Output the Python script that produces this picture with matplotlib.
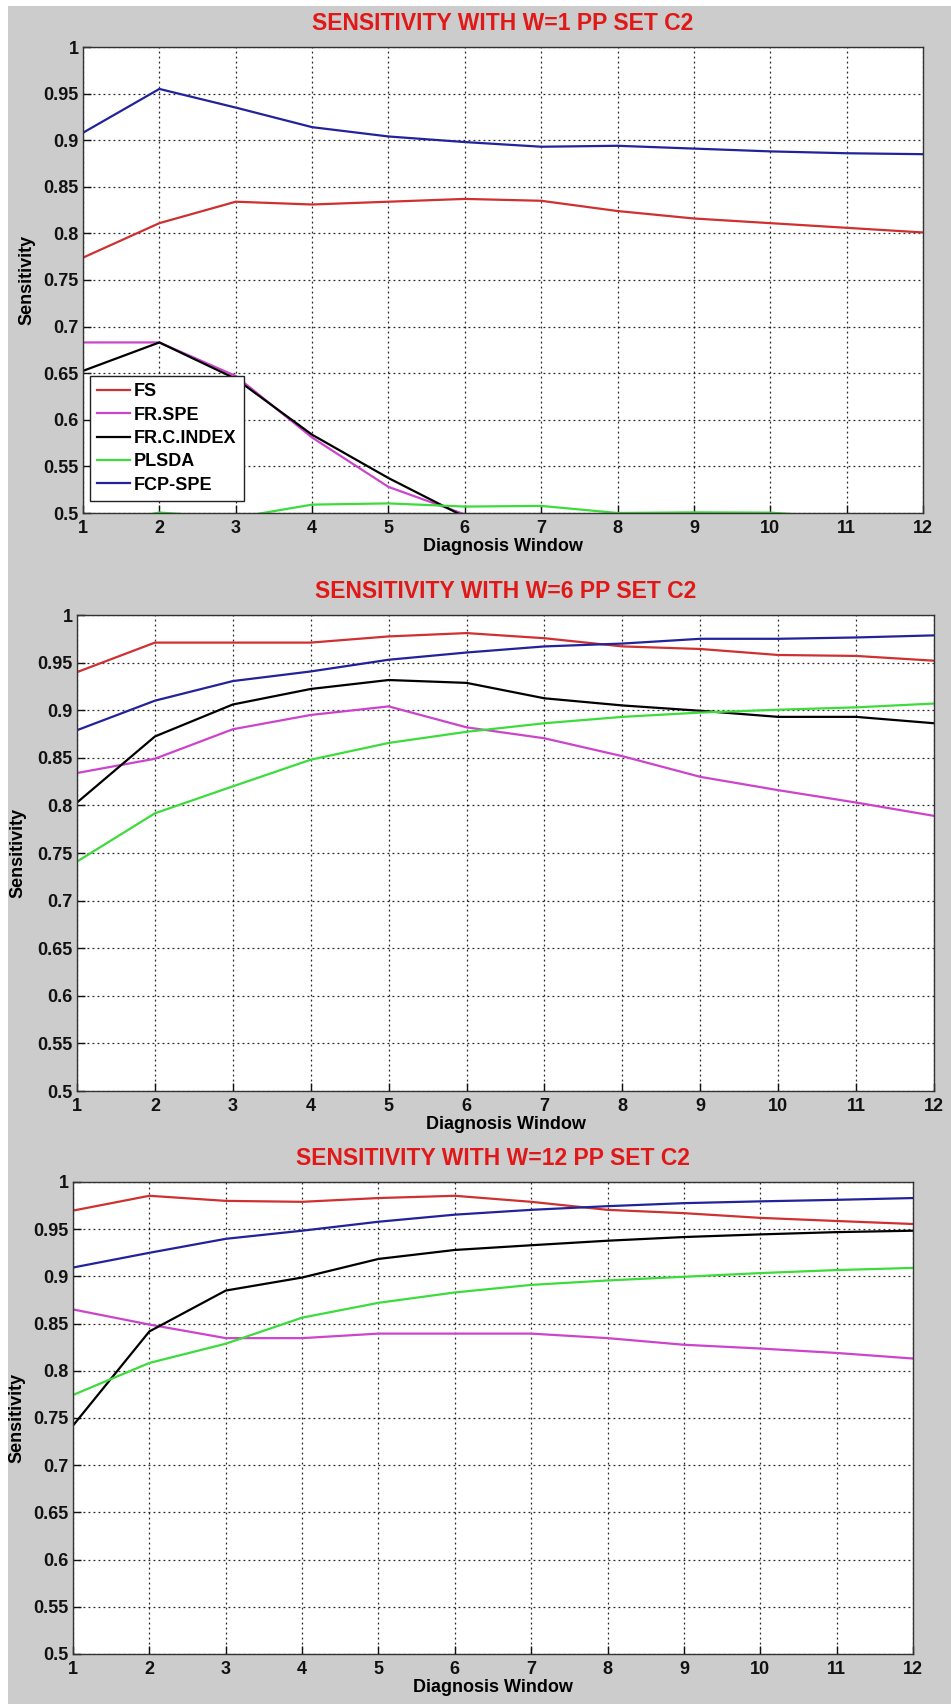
import numpy as np
import matplotlib
matplotlib.use("Agg")
import matplotlib.pyplot as plt
from matplotlib.patches import Rectangle

# ---- data -------------------------------------------------------------
windows = [1, 2, 3, 4, 5, 6, 7, 8, 9, 10, 11, 12]
series_names = ["FS", "FR.SPE", "FR.C.INDEX", "PLSDA", "FCP-SPE"]
panel_titles = ["SENSITIVITY WITH W=1 PP SET C2",
                "SENSITIVITY WITH W=6 PP SET C2",
                "SENSITIVITY WITH W=12 PP SET C2"]
y_ticks = [0.5, 0.55, 0.6, 0.65, 0.7, 0.75, 0.8, 0.85, 0.9, 0.95, 1.0]
y_tick_labels = ["0.5", "0.55", "0.6", "0.65", "0.7", "0.75",
                 "0.8", "0.85", "0.9", "0.95", "1"]

# W = 1
w1_fs = [0.774, 0.811, 0.834, 0.831, 0.834, 0.837, 0.835, 0.824, 0.816, 0.811, 0.806, 0.801]
w1_frspe = [0.683, 0.683, 0.647, 0.581, 0.528, 0.4985, np.nan, np.nan, np.nan, np.nan, np.nan, np.nan]
w1_frcindex = [0.6525, 0.683, 0.644, 0.584, 0.5375, 0.4958, np.nan, np.nan, np.nan, np.nan, np.nan, np.nan]
w1_plsda = [0.485, 0.5005, 0.495, 0.509, 0.5103, 0.5069, 0.5076, 0.5, 0.5007, 0.5004, 0.495, 0.49]
w1_fcpspe = [0.908, 0.955, 0.935, 0.914, 0.904, 0.898, 0.893, 0.894, 0.891, 0.888, 0.886, 0.885]

# W = 6
w6_fs = [0.940, 0.971, 0.971, 0.971, 0.9775, 0.981, 0.9756, 0.967, 0.9643, 0.958, 0.957, 0.952]
w6_frspe = [0.834, 0.849, 0.880, 0.895, 0.904, 0.882, 0.8705, 0.8517, 0.830, 0.816, 0.803, 0.789]
w6_frcindex = [0.803, 0.8724, 0.906, 0.9223, 0.9317, 0.9287, 0.9125, 0.905, 0.8994, 0.893, 0.893, 0.8863]
w6_plsda = [0.741, 0.7917, 0.820, 0.848, 0.8656, 0.8773, 0.8863, 0.893, 0.8975, 0.9005, 0.903, 0.907]
w6_fcpspe = [0.879, 0.910, 0.9306, 0.9407, 0.953, 0.9606, 0.967, 0.970, 0.975, 0.975, 0.9764, 0.9786]

# W = 12
w12_fs = [0.9697, 0.9854, 0.980, 0.979, 0.983, 0.9854, 0.979, 0.9705, 0.967, 0.962, 0.9587, 0.9555]
w12_frspe = [0.865, 0.849, 0.8346, 0.8346, 0.8394, 0.8394, 0.8394, 0.8346, 0.8276, 0.8236, 0.8189, 0.813]
w12_frcindex = [0.742, 0.8417, 0.885, 0.8988, 0.9185, 0.928, 0.933, 0.9378, 0.9417, 0.9445, 0.9469, 0.9484]
w12_plsda = [0.7744, 0.8083, 0.8287, 0.8563, 0.872, 0.883, 0.891, 0.8957, 0.8996, 0.9035, 0.9067, 0.909]
w12_fcpspe = [0.9094, 0.925, 0.9398, 0.9484, 0.9579, 0.9654, 0.9705, 0.9744, 0.9776, 0.9795, 0.9811, 0.983]

panels = [
    [w1_fs, w1_frspe, w1_frcindex, w1_plsda, w1_fcpspe],
    [w6_fs, w6_frspe, w6_frcindex, w6_plsda, w6_fcpspe],
    [w12_fs, w12_frspe, w12_frcindex, w12_plsda, w12_fcpspe],
]

# ---- styling ----------------------------------------------------------
colors = ["#cf3030", "#cc44cc", "#000000", "#3cdc3c", "#22229a"]
plt.rcParams["font.family"] = ["Liberation Sans", "DejaVu Sans"]
plt.rcParams["font.weight"] = "bold"

W, H = 951, 1704
fig = plt.figure(figsize=(W / 100, H / 100), dpi=100)
fig.patch.set_facecolor("white")
fig.patches.append(Rectangle((8 / W, 0), 1 - 8 / W, 1 - 6 / H,
                             transform=fig.transFigure, facecolor="#cccccc",
                             edgecolor="none", zorder=-10))

# axes boxes in pixels: left, right, top, bottom
boxes = [(83, 923, 47, 513), (77, 934, 615, 1091), (73, 913, 1182, 1654)]
ylabel_x = [27, 18, 17]

for i, (data, title, (l, r, t, b)) in enumerate(zip(panels, panel_titles, boxes)):
    ax = fig.add_axes([l / W, 1 - b / H, (r - l) / W, (b - t) / H])
    ax.set_facecolor("white")
    for name, vals, c in zip(series_names, data, colors):
        ax.plot(windows, vals, color=c, lw=1.6, label=name, solid_joinstyle="round")
    ax.set_xlim(1, 12)
    ax.set_ylim(0.5, 1.0)
    ax.set_xticks(windows)
    ax.set_yticks(y_ticks)
    ax.set_yticklabels(y_tick_labels)
    ax.grid(True, color="black", linestyle=(0, (1.5, 2.5)), linewidth=0.9, alpha=0.85)
    ax.tick_params(direction="in", length=6, width=1, labelsize=13,
                   colors="#111111", top=False, right=False)
    ax.tick_params(axis="x", pad=5)
    ax.tick_params(axis="y", pad=3)
    for s in ax.spines.values():
        s.set_color("#333333")
        s.set_linewidth(1.0)
    ax.set_title(title, color="#e01818", fontsize=16.5, fontweight="bold", pad=12)
    ax.set_xlabel("Diagnosis Window", fontsize=13, fontweight="bold", labelpad=1)
    ax.set_ylabel("Sensitivity", fontsize=13, fontweight="bold")
    ax.yaxis.set_label_coords((ylabel_x[i] + 8 - l) / (r - l), 0.5)
    if i == 0:
        leg = ax.legend(loc="lower left", bbox_to_anchor=(7 / (r - l), 12 / (b - t)),
                        borderaxespad=0, fancybox=False, framealpha=1,
                        edgecolor="#222222", fontsize=13, handlelength=1.8,
                        handletextpad=0.25, labelspacing=0.35, borderpad=0.4)
        leg.get_frame().set_linewidth(1.0)

fig.savefig("out.png", dpi=100, facecolor=fig.get_facecolor())
